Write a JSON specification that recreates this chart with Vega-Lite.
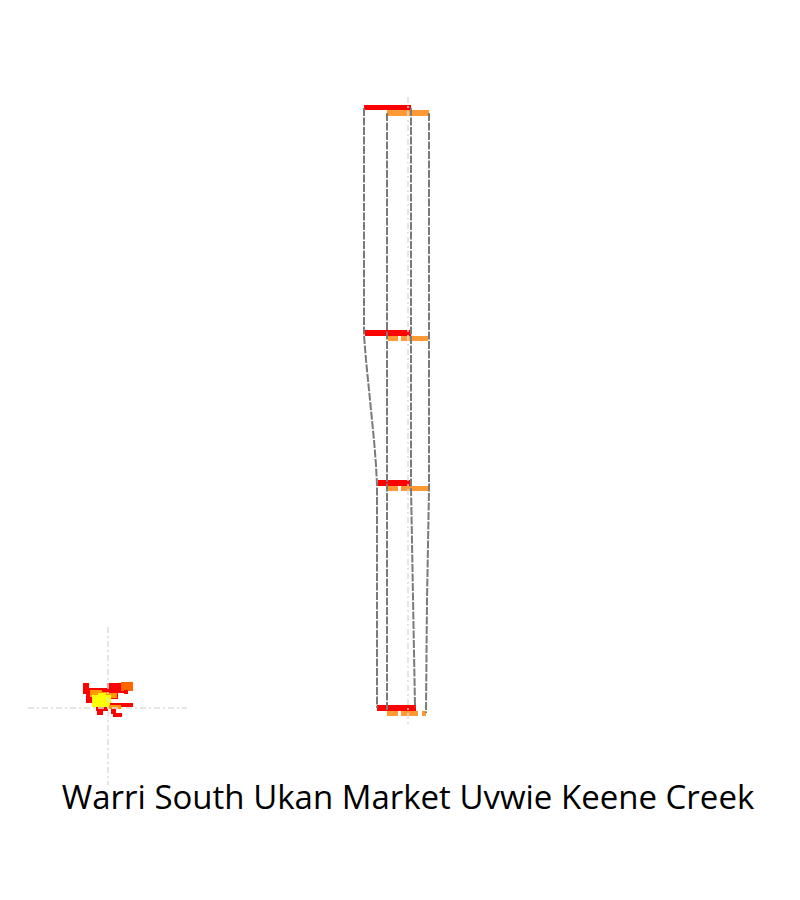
{
  "$schema": "https://vega.github.io/schema/vega-lite/v6.json",
  "width": 800,
  "height": 900,
  "padding": 0,
  "autosize": {"type": "fit", "contains": "padding"},
  "background": "white",
  "config": {"view": {"stroke": null}},
  "datasets": {
    "bars": [
      {"series": "a", "x": 364, "x2": 411, "y": 105, "y2": 110},
      {"series": "a", "x": 365, "x2": 411, "y": 330, "y2": 336},
      {"series": "a", "x": 378, "x2": 411, "y": 480, "y2": 486},
      {"series": "a", "x": 377, "x2": 416, "y": 705, "y2": 711},
      {"series": "b", "x": 387, "x2": 429, "y": 110, "y2": 116},
      {"series": "b", "x": 388, "x2": 398, "y": 336, "y2": 341},
      {"series": "b", "x": 401, "x2": 428, "y": 336, "y2": 341},
      {"series": "b", "x": 388, "x2": 398, "y": 486, "y2": 491},
      {"series": "b", "x": 401, "x2": 428, "y": 486, "y2": 491},
      {"series": "b", "x": 387, "x2": 398, "y": 711, "y2": 716},
      {"series": "b", "x": 401, "x2": 418, "y": 711, "y2": 716},
      {"series": "b", "x": 422, "x2": 426, "y": 711, "y2": 716}
    ],
    "lines": [
      {"id": 1, "o": 1, "x": 364, "y": 108},
      {"id": 1, "o": 2, "x": 364, "y": 335},
      {"id": 1, "o": 3, "x": 366, "y": 360},
      {"id": 1, "o": 4, "x": 370, "y": 400},
      {"id": 1, "o": 5, "x": 374, "y": 440},
      {"id": 1, "o": 6, "x": 376, "y": 465},
      {"id": 1, "o": 7, "x": 377, "y": 485},
      {"id": 1, "o": 8, "x": 377, "y": 708},
      {"id": 2, "o": 1, "x": 387, "y": 113},
      {"id": 2, "o": 2, "x": 387, "y": 710},
      {"id": 3, "o": 1, "x": 411, "y": 108},
      {"id": 3, "o": 2, "x": 411, "y": 487},
      {"id": 3, "o": 3, "x": 415, "y": 707},
      {"id": 4, "o": 1, "x": 429, "y": 113},
      {"id": 4, "o": 2, "x": 429, "y": 490},
      {"id": 4, "o": 3, "x": 427, "y": 600},
      {"id": 4, "o": 4, "x": 426, "y": 713}
    ],
    "guides": [
      {"x": 408, "x2": 408, "y": 97, "y2": 724},
      {"x": 108, "x2": 108, "y": 627, "y2": 785},
      {"x": 28, "x2": 187, "y": 708, "y2": 708}
    ],
    "blob": [
      {"c": "r", "x": 83, "x2": 89, "y": 683, "y2": 694},
      {"c": "r", "x": 86, "x2": 97, "y": 692, "y2": 703},
      {"c": "r", "x": 88, "x2": 118, "y": 688, "y2": 699},
      {"c": "o", "x": 90, "x2": 102, "y": 690, "y2": 697},
      {"c": "o", "x": 101, "x2": 117, "y": 692, "y2": 698},
      {"c": "r", "x": 107, "x2": 127, "y": 683, "y2": 693},
      {"c": "d", "x": 121, "x2": 133, "y": 682, "y2": 691},
      {"c": "r", "x": 124, "x2": 128, "y": 690, "y2": 694},
      {"c": "y", "x": 92, "x2": 111, "y": 695, "y2": 707},
      {"c": "y", "x": 98, "x2": 106, "y": 693, "y2": 696},
      {"c": "r", "x": 110, "x2": 133, "y": 703, "y2": 707},
      {"c": "o", "x": 109, "x2": 121, "y": 705, "y2": 709},
      {"c": "r", "x": 96, "x2": 108, "y": 707, "y2": 711},
      {"c": "r", "x": 97, "x2": 103, "y": 711, "y2": 715},
      {"c": "r", "x": 111, "x2": 116, "y": 709, "y2": 714},
      {"c": "r", "x": 113, "x2": 122, "y": 713, "y2": 717}
    ],
    "labels": [
      {"label": "Warri South Ukan Market Uvwie Keene Creek", "x": 408, "y": 809}
    ]
  },
  "layer": [
    {
      "data": {"name": "blob"},
      "mark": {"type": "rect"},
      "encoding": {
        "x": {"field": "x", "type": "quantitative", "scale": {"domain": [0, 800], "nice": false, "zero": false}, "axis": null},
        "x2": {"field": "x2"},
        "y": {"field": "y", "type": "quantitative", "scale": {"domain": [0, 900], "nice": false, "zero": false, "reverse": true}, "axis": null},
        "y2": {"field": "y2"},
        "color": {"field": "c", "type": "nominal", "scale": {"domain": ["r", "o", "d", "y"], "range": ["#ff0000", "#ff9900", "#ff6600", "#ffff00"]}, "legend": null}
      }
    },
    {
      "data": {"name": "bars"},
      "mark": {"type": "rect"},
      "encoding": {
        "x": {"field": "x", "type": "quantitative", "axis": null},
        "x2": {"field": "x2"},
        "y": {"field": "y", "type": "quantitative", "axis": null},
        "y2": {"field": "y2"},
        "fill": {"field": "series", "type": "nominal", "scale": {"domain": ["a", "b"], "range": ["#ff0000", "#ff9933"]}, "legend": null}
      }
    },
    {
      "data": {"name": "lines"},
      "mark": {"type": "line", "stroke": "#7a7a7a", "strokeWidth": 2, "strokeDash": [8, 1.5]},
      "encoding": {
        "x": {"field": "x", "type": "quantitative", "axis": null},
        "y": {"field": "y", "type": "quantitative", "axis": null},
        "detail": {"field": "id", "type": "nominal"},
        "order": {"field": "o", "type": "quantitative"}
      }
    },
    {
      "data": {"name": "guides"},
      "mark": {"type": "rule", "stroke": "#dddddd", "strokeWidth": 1.5, "strokeDash": [6, 3, 2, 3]},
      "encoding": {
        "x": {"field": "x", "type": "quantitative", "axis": null},
        "x2": {"field": "x2"},
        "y": {"field": "y", "type": "quantitative", "axis": null},
        "y2": {"field": "y2"}
      }
    },
    {
      "data": {"name": "labels"},
      "mark": {"type": "text", "font": "Open Sans", "fontSize": 33, "color": "#000000", "align": "center", "baseline": "alphabetic"},
      "encoding": {
        "x": {"field": "x", "type": "quantitative", "axis": null},
        "y": {"field": "y", "type": "quantitative", "axis": null},
        "text": {"field": "label"}
      }
    }
  ]
}
